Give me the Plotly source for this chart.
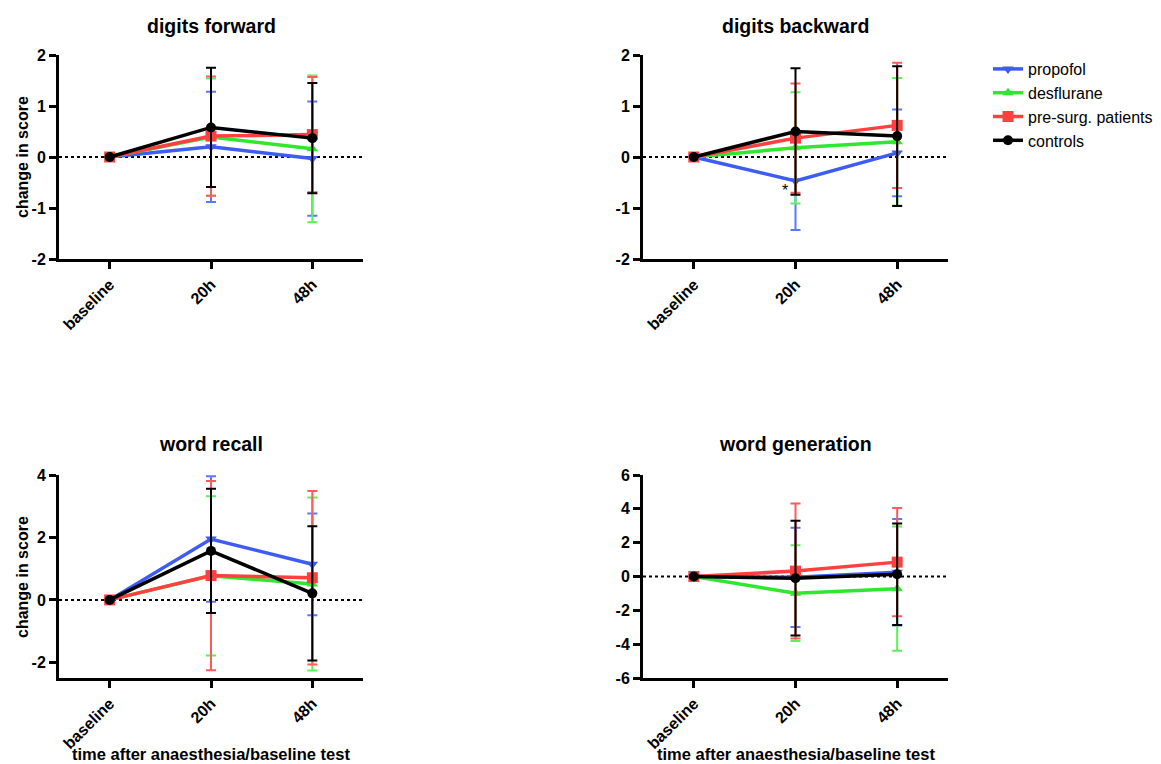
import plotly.graph_objects as go

# ---------------- data ----------------
categories = ["baseline", "20h", "48h"]
series_names = ["propofol", "desflurane", "pre-surg. patients", "controls"]
panel_titles = ["digits forward", "digits backward", "word recall", "word generation"]

# digits forward
df_propofol_mean = [0, 0.20, -0.03]
df_propofol_sd = [0, 1.08, 1.12]
df_desflurane_mean = [0, 0.39, 0.16]
df_desflurane_sd = [0, 1.15, 1.44]
df_presurg_mean = [0, 0.41, 0.44]
df_presurg_sd = [0, 1.17, 1.13]
df_controls_mean = [0, 0.58, 0.37]
df_controls_sd = [0, 1.17, 1.08]

# digits backward
db_propofol_mean = [0, -0.47, 0.08]
db_propofol_sd = [0, 0.96, 0.85]
db_desflurane_mean = [0, 0.18, 0.30]
db_desflurane_sd = [0, 1.09, 1.25]
db_presurg_mean = [0, 0.37, 0.62]
db_presurg_sd = [0, 1.07, 1.23]
db_controls_mean = [0, 0.50, 0.41]
db_controls_sd = [0, 1.24, 1.37]

# word recall
wr_propofol_mean = [0, 1.95, 1.14]
wr_propofol_sd = [0, 2.01, 1.63]
wr_desflurane_mean = [0, 0.77, 0.51]
wr_desflurane_sd = [0, 2.55, 2.77]
wr_presurg_mean = [0, 0.78, 0.71]
wr_presurg_sd = [0, 3.03, 2.78]
wr_controls_mean = [0, 1.57, 0.21]
wr_controls_sd = [0, 1.99, 2.15]

# word generation
wg_propofol_mean = [0, -0.05, 0.25]
wg_propofol_sd = [0, 2.93, 3.15]
wg_desflurane_mean = [0, -0.99, -0.72]
wg_desflurane_sd = [0, 2.83, 3.67]
wg_presurg_mean = [0, 0.32, 0.85]
wg_presurg_sd = [0, 3.99, 3.20]
wg_controls_mean = [0, -0.10, 0.13]
wg_controls_sd = [0, 3.39, 3.00]

y_ranges = [[-2, 2], [-2, 2], [-2.5, 4], [-6, 6]]
y_ticks = [[-2, -1, 0, 1, 2], [-2, -1, 0, 1, 2], [-2, 0, 2, 4], [-6, -4, -2, 0, 2, 4, 6]]

panels = [
    [(df_propofol_mean, df_propofol_sd), (df_desflurane_mean, df_desflurane_sd),
     (df_presurg_mean, df_presurg_sd), (df_controls_mean, df_controls_sd)],
    [(db_propofol_mean, db_propofol_sd), (db_desflurane_mean, db_desflurane_sd),
     (db_presurg_mean, db_presurg_sd), (db_controls_mean, db_controls_sd)],
    [(wr_propofol_mean, wr_propofol_sd), (wr_desflurane_mean, wr_desflurane_sd),
     (wr_presurg_mean, wr_presurg_sd), (wr_controls_mean, wr_controls_sd)],
    [(wg_propofol_mean, wg_propofol_sd), (wg_desflurane_mean, wg_desflurane_sd),
     (wg_presurg_mean, wg_presurg_sd), (wg_controls_mean, wg_controls_sd)],
]

# ---------------- style ----------------
# page has an 8px body margin; figure is sized to fit the 1161x764 window
OFF = 8
W, H = 1161 - OFF, 764 - OFF
colors = ["#3d5cf5", "#2ee82e", "#ff4040", "#000000"]
err_colors = ["#5a78ff", "#5cf05c", "#ff5a5a", "#000000"]
symbols = ["triangle-down", "triangle-up", "square", "circle"]
msizes = [10, 10, 11, 10]
FONT = "Liberation Sans, Arial, sans-serif"


def px(xp):
    return (xp - OFF) / W


def py(yp):
    return 1 - (yp - OFF) / H


x_domains = [[px(59), px(363)], [px(643), px(948)]]
y_domains = [[py(259), py(55)], [py(678), py(475)]]

fig = go.Figure()

for p, series in enumerate(panels):
    ax = "" if p == 0 else str(p + 1)
    for s, (mean, sd) in enumerate(series):
        fig.add_trace(go.Scatter(
            x=categories, y=mean,
            mode="lines+markers",
            name=series_names[s],
            legendgroup=series_names[s],
            showlegend=(p == 0),
            line=dict(color=colors[s], width=3.5),
            marker=dict(symbol=symbols[s], size=msizes[s], color=colors[s]),
            error_y=dict(type="data", array=sd, visible=True,
                         color=err_colors[s], thickness=2, width=5),
            xaxis="x" + ax, yaxis="y" + ax,
        ))

layout = dict(
    width=W, height=H,
    plot_bgcolor="white", paper_bgcolor="white",
    margin=dict(l=0, r=0, t=0, b=0),
    font=dict(family=FONT, color="black"),
    legend=dict(x=px(988), y=py(52), xanchor="left", yanchor="top",
                font=dict(family=FONT, size=16, color="black"),
                tracegroupgap=0, itemwidth=30, bgcolor="rgba(0,0,0,0)"),
    shapes=[], annotations=[],
)

for p in range(4):
    ax = "" if p == 0 else str(p + 1)
    col, row = p % 2, p // 2
    layout["xaxis" + ax] = dict(
        domain=x_domains[col], anchor="y" + ax,
        type="category", categoryorder="array", categoryarray=categories,
        range=[-0.5, 2.5], showline=True, linecolor="black", linewidth=3,
        ticks="outside", ticklen=7, tickwidth=3, tickcolor="black",
        tickangle=-45, showgrid=False, zeroline=False,
        tickfont=dict(family=FONT, size=16, weight="bold", color="black"),
        automargin=False, fixedrange=True,
    )
    layout["yaxis" + ax] = dict(
        domain=y_domains[row], anchor="x" + ax,
        range=y_ranges[p], tickvals=y_ticks[p],
        ticktext=[str(v) for v in y_ticks[p]],
        showline=True, linecolor="black", linewidth=3,
        ticks="outside", ticklen=7, tickwidth=3, tickcolor="black",
        showgrid=False, zeroline=False,
        tickfont=dict(family=FONT, size=16, weight="bold", color="black"),
        automargin=False, fixedrange=True,
    )
    # dotted zero line
    layout["shapes"].append(dict(
        type="line", xref="x" + ax + " domain", x0=0, x1=1,
        yref="y" + ax, y0=0, y1=0,
        line=dict(color="black", width=2, dash="dot"), layer="below",
    ))
    # panel title
    xc = (x_domains[col][0] + x_domains[col][1]) / 2
    ty = py(26) if row == 0 else py(444)
    layout["annotations"].append(dict(
        text=panel_titles[p], x=xc, y=ty, xref="paper", yref="paper",
        showarrow=False, xanchor="center", yanchor="middle",
        font=dict(family=FONT, size=19.5, weight="bold", color="black"),
    ))

# y axis titles (left column)
for yc in [157, 577]:
    layout["annotations"].append(dict(
        text="change in score", x=px(22), y=py(yc), xref="paper", yref="paper",
        showarrow=False, textangle=-90, xanchor="center", yanchor="middle",
        font=dict(family=FONT, size=16, weight="bold", color="black"),
    ))

# x axis titles (bottom row)
for col in range(2):
    xc = (x_domains[col][0] + x_domains[col][1]) / 2
    layout["annotations"].append(dict(
        text="time after anaesthesia/baseline test", x=xc, y=py(754),
        xref="paper", yref="paper", showarrow=False,
        xanchor="center", yanchor="middle",
        font=dict(family=FONT, size=16.5, weight="bold", color="black"),
    ))

# significance marker
layout["annotations"].append(dict(
    text="*", x=0.9, y=-0.66, xref="x2", yref="y2", showarrow=False,
    xanchor="center", yanchor="middle",
    font=dict(family=FONT, size=16, color="black"),
))

fig.update_layout(**layout)
fig.write_html("out.html")
